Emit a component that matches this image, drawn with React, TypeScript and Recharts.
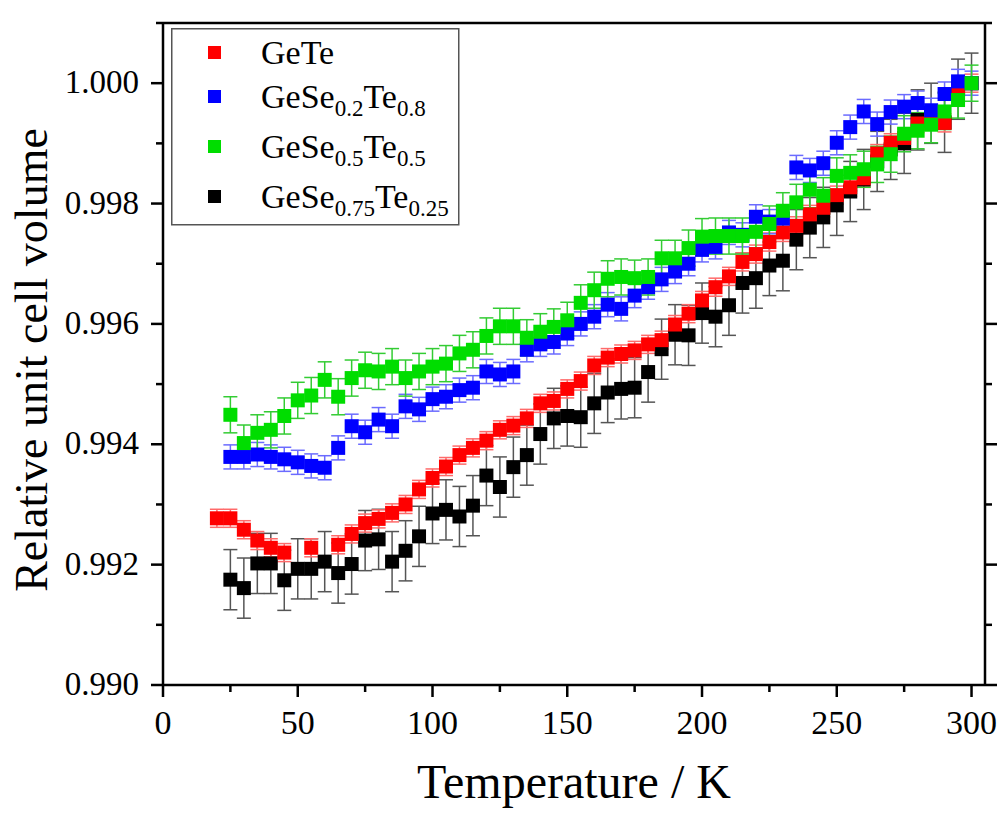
import React from 'react';
import { ScatterChart, Scatter, XAxis, YAxis, ErrorBar, Legend, Label } from 'recharts';

// temperatures in K
const tempGeTe = [20, 25, 30, 35, 40, 45, 55, 65, 70, 75, 80, 85, 90, 95, 100, 105, 110, 115, 120, 125, 130, 135, 140, 145, 150, 155, 160, 165, 170, 175, 180, 185, 190, 195, 200, 205, 210, 215, 220, 225, 230, 235, 240, 245, 250, 255, 260, 265, 270, 275, 280, 285, 290, 295, 300];
const tempAlloy = [25, 30, 35, 40, 45, 50, 55, 60, 65, 70, 75, 80, 85, 90, 95, 100, 105, 110, 115, 120, 125, 130, 135, 140, 145, 150, 155, 160, 165, 170, 175, 180, 185, 190, 195, 200, 205, 210, 215, 220, 225, 230, 235, 240, 245, 250, 255, 260, 265, 270, 275, 280, 285, 290, 295, 300];

// relative unit cell volume
const volGeTe = [0.99277, 0.99277, 0.99258, 0.9924, 0.99228, 0.9922, 0.99228, 0.99233, 0.99251, 0.99269, 0.99276, 0.99286, 0.993, 0.99325, 0.99344, 0.99363, 0.99382, 0.99394, 0.99406, 0.99424, 0.99431, 0.99443, 0.99468, 0.99472, 0.99492, 0.99505, 0.99531, 0.99544, 0.9955, 0.99556, 0.99566, 0.99573, 0.99599, 0.99617, 0.99639, 0.99661, 0.99679, 0.99703, 0.99716, 0.99736, 0.99752, 0.99763, 0.99782, 0.99793, 0.99814, 0.99827, 0.99842, 0.99883, 0.99901, 0.99909, 0.99933, 0.99937, 0.99934, 0.99989, 1.0];
const volSe02 = [0.99379, 0.99379, 0.99383, 0.99379, 0.99375, 0.9937, 0.99364, 0.99361, 0.99394, 0.9943, 0.9942, 0.99441, 0.9943, 0.99463, 0.99458, 0.99475, 0.99479, 0.9949, 0.99494, 0.99521, 0.99516, 0.99521, 0.99557, 0.99566, 0.9957, 0.99584, 0.996, 0.99612, 0.99632, 0.99625, 0.99647, 0.99661, 0.99674, 0.99687, 0.997, 0.99723, 0.99728, 0.99752, 0.99748, 0.99778, 0.9977, 0.99775, 0.9986, 0.99855, 0.99867, 0.99901, 0.99927, 0.99953, 0.99932, 0.99952, 0.99961, 0.99967, 0.99955, 0.99982, 1.00003, 1.0];
const volSe05 = [0.99449, 0.99402, 0.99419, 0.99424, 0.99447, 0.99473, 0.99481, 0.99507, 0.99479, 0.9951, 0.99523, 0.99521, 0.99529, 0.9951, 0.99521, 0.99529, 0.99534, 0.99551, 0.99557, 0.9958, 0.99596, 0.99596, 0.99577, 0.99587, 0.99595, 0.99606, 0.99635, 0.99656, 0.99675, 0.99678, 0.99676, 0.99678, 0.99709, 0.99709, 0.99726, 0.99745, 0.99746, 0.99746, 0.99746, 0.99753, 0.99766, 0.99788, 0.99802, 0.99823, 0.99813, 0.99846, 0.99851, 0.99857, 0.99865, 0.99882, 0.99916, 0.99921, 0.99931, 0.99953, 0.99972, 1.0];
const volSe075 = [0.99175, 0.99161, 0.99202, 0.99202, 0.99174, 0.99193, 0.99193, 0.99205, 0.99186, 0.99201, 0.9924, 0.99242, 0.99205, 0.99223, 0.99247, 0.99285, 0.99291, 0.9928, 0.99298, 0.99348, 0.99329, 0.99362, 0.99382, 0.99417, 0.99443, 0.99447, 0.99445, 0.99468, 0.99486, 0.99492, 0.99494, 0.9952, 0.99558, 0.99582, 0.99581, 0.99618, 0.99612, 0.99631, 0.99668, 0.99676, 0.99697, 0.99705, 0.9974, 0.9976, 0.99777, 0.99797, 0.9982, 0.9984, 0.9987, 0.9989, 0.999, 0.99939, 0.9995, 0.99935, 0.9999, 1.0];

// error bar half heights
const errGeTe = 0.00015;
const errSe02 = 0.0002;
const errSe05 = 0.0003;
const errSe075 = 0.0005;

const xTicks = [0, 25, 50, 75, 100, 125, 150, 175, 200, 225, 250, 275, 300];
const yTicks = [0.99, 0.991, 0.992, 0.993, 0.994, 0.995, 0.996, 0.997, 0.998, 0.999, 1.0, 1.001];

const FONT = "'Liberation Serif', 'Times New Roman', serif";

const build = (temps: number[], vols: number[], err: number) =>
  temps.map((t, i) => ({ t, v: vols[i], err }));

const dataGeTe = build(tempGeTe, volGeTe, errGeTe);
const dataSe02 = build(tempAlloy, volSe02, errSe02);
const dataSe05 = build(tempAlloy, volSe05, errSe05);
const dataSe075 = build(tempAlloy, volSe075, errSe075);

const square = (color: string) => (props: any) =>
  <rect x={props.cx - 7} y={props.cy - 7} width={14} height={14} fill={color} />;

const BottomTick = (props: any) => {
  const { x, y, payload } = props;
  const major = payload.value % 50 === 0;
  return (
    <g>
      <line x1={x} y1={y} x2={x} y2={y + (major ? 12 : 7)} stroke="#000" strokeWidth={2.5} />
      {major && (
        <text x={x} y={y + 49} textAnchor="middle" fontFamily={FONT} fontSize={34} fill="#000">
          {payload.value}
        </text>
      )}
    </g>
  );
};

const TopTick = (props: any) => {
  const { x, y, payload } = props;
  const major = payload.value % 50 === 0;
  return <line x1={x} y1={y} x2={x} y2={y - (major ? 12 : 7)} stroke="#000" strokeWidth={2.5} />;
};

const LeftTick = (props: any) => {
  const { x, y, payload } = props;
  const major = Math.round(payload.value * 1000) % 2 === 0;
  return (
    <g>
      <line x1={x} y1={y} x2={x - (major ? 12 : 7)} y2={y} stroke="#000" strokeWidth={2.5} />
      {major && (
        <text x={x - 24} y={y + 10} textAnchor="end" fontFamily={FONT} fontSize={33} fill="#000">
          {payload.value.toFixed(3)}
        </text>
      )}
    </g>
  );
};

const RightTick = (props: any) => {
  const { x, y, payload } = props;
  const major = Math.round(payload.value * 1000) % 2 === 0;
  return <line x1={x} y1={y} x2={x + (major ? 12 : 7)} y2={y} stroke="#000" strokeWidth={2.5} />;
};

const legendRows = [
  { color: '#ff0000', base: 'GeTe', parts: [] as string[][] },
  { color: '#0000ff', base: 'GeSe', parts: [['0.2', 'Te'], ['0.8', '']] },
  { color: '#00dd00', base: 'GeSe', parts: [['0.5', 'Te'], ['0.5', '']] },
  { color: '#000000', base: 'GeSe', parts: [['0.75', 'Te'], ['0.25', '']] },
];

const LegendBox = () => (
  <svg width={290} height={199} style={{ display: 'block' }}>
    <rect x={0.75} y={0.75} width={287} height={196} fill="#fff" stroke="#555" strokeWidth={1.5} />
    {legendRows.map((row, i) => {
      const base = [36, 80, 130, 180][i];
      return (
        <g key={i}>
          <rect x={37} y={base - 18} width={13} height={13} fill={row.color} />
          <text x={90} y={base} fontFamily={FONT} fontSize={34} fill="#000">
            {row.base}
            {row.parts.map(([sub, after], j) => (
              <React.Fragment key={j}>
                <tspan dy={8} fontSize={23}>{sub}</tspan>
                {after && <tspan dy={-8}>{after}</tspan>}
              </React.Fragment>
            ))}
          </text>
        </g>
      );
    })}
  </svg>
);

export default function App() {
  return (
    <div style={{ position: 'absolute', left: 0, top: 0, background: '#fff' }}>
      <ScatterChart width={1003} height={814} margin={{ top: 0, right: 0, bottom: 0, left: 0 }}>
        <XAxis
          xAxisId="b"
          dataKey="t"
          type="number"
          domain={[0, 305]}
          allowDataOverflow
          ticks={xTicks}
          height={129}
          axisLine={{ stroke: '#000', strokeWidth: 2.5 }}
          tickLine={false}
          tickSize={0}
          tickMargin={0}
          tick={<BottomTick />}
          interval={0}
        >
          <Label
            content={() => (
              <text x={574} y={798} textAnchor="middle" fontFamily={FONT} fontSize={48} fill="#000">
                Temperature / K
              </text>
            )}
          />
        </XAxis>
        <XAxis
          xAxisId="t"
          orientation="top"
          type="number"
          domain={[0, 305]}
          allowDataOverflow
          ticks={xTicks}
          height={23}
          axisLine={{ stroke: '#000', strokeWidth: 2.5 }}
          tickLine={false}
          tickSize={0}
          tickMargin={0}
          tick={<TopTick />}
          interval={0}
        />
        <YAxis
          yAxisId="l"
          dataKey="v"
          type="number"
          domain={[0.99, 1.001]}
          allowDataOverflow
          ticks={yTicks}
          width={163}
          axisLine={{ stroke: '#000', strokeWidth: 2.5 }}
          tickLine={false}
          tickSize={0}
          tickMargin={0}
          tick={<LeftTick />}
          interval={0}
        >
          <Label
            content={() => (
              <text
                x={47}
                y={360}
                transform="rotate(-90 47 360)"
                textAnchor="middle"
                fontFamily={FONT}
                fontSize={46}
                fill="#000"
              >
                Relative unit cell volume
              </text>
            )}
          />
        </YAxis>
        <YAxis
          yAxisId="r"
          orientation="right"
          type="number"
          domain={[0.99, 1.001]}
          allowDataOverflow
          ticks={yTicks}
          width={18}
          axisLine={{ stroke: '#000', strokeWidth: 2.5 }}
          tickLine={false}
          tickSize={0}
          tickMargin={0}
          tick={<RightTick />}
          interval={0}
        />
        <Legend
          layout="vertical"
          align="center"
          verticalAlign="middle"
          content={() => <LegendBox />}
          wrapperStyle={{ left: 171, top: 28, width: 290, height: 199 }}
        />
        <Scatter name="GeSe0.75Te0.25" data={dataSe075} xAxisId="b" yAxisId="l" shape={square('#000000')} isAnimationActive={false}>
          <ErrorBar dataKey="err" direction="y" width={7} stroke="#555" strokeWidth={1.5} isAnimationActive={false} />
        </Scatter>
        <Scatter name="GeTe" data={dataGeTe} xAxisId="b" yAxisId="l" shape={square('#ff0000')} isAnimationActive={false}>
          <ErrorBar dataKey="err" direction="y" width={7} stroke="#ff6a6a" strokeWidth={1.5} isAnimationActive={false} />
        </Scatter>
        <Scatter name="GeSe0.2Te0.8" data={dataSe02} xAxisId="b" yAxisId="l" shape={square('#0000ff')} isAnimationActive={false}>
          <ErrorBar dataKey="err" direction="y" width={7} stroke="#6b6bff" strokeWidth={1.5} isAnimationActive={false} />
        </Scatter>
        <Scatter name="GeSe0.5Te0.5" data={dataSe05} xAxisId="b" yAxisId="l" shape={square('#00dd00')} isAnimationActive={false}>
          <ErrorBar dataKey="err" direction="y" width={7} stroke="#33cc33" strokeWidth={1.5} isAnimationActive={false} />
        </Scatter>
      </ScatterChart>
    </div>
  );
}
